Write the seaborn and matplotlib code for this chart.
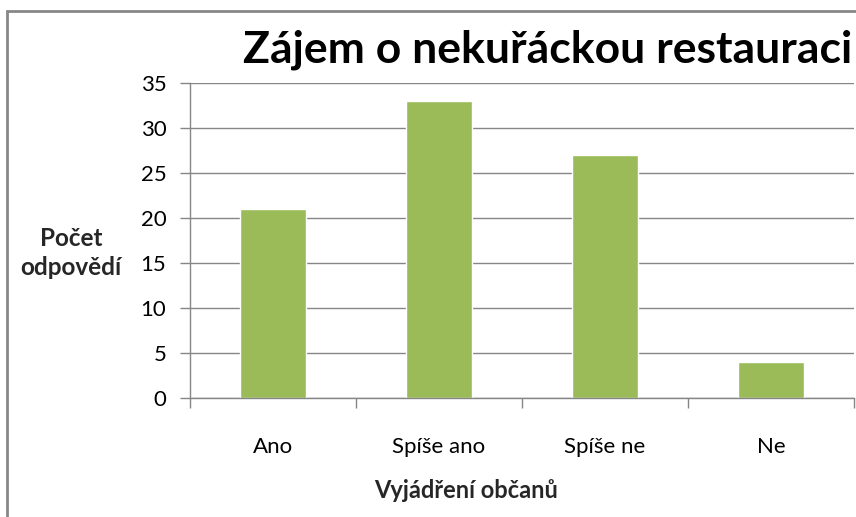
import matplotlib
matplotlib.use("Agg")
import matplotlib.pyplot as plt
import matplotlib.patches as patches
import seaborn as sns
import pandas as pd

# data
categories = ["Ano", "Spíše ano", "Spíše ne", "Ne"]
counts = [21, 33, 27, 4]
y_ticks = [0, 5, 10, 15, 20, 25, 30, 35]

title = "Zájem o nekuřáckou restauraci"
x_label = "Vyjádření občanů"
y_label = "Počet\nodpovědí"

sns.set_theme(style="white")
plt.rcParams["font.family"] = ["Lato", "DejaVu Sans"]

W, H = 856, 517
fig = plt.figure(figsize=(W / 100, H / 100), dpi=100)

# chart border (only left/top visible, rest is cropped)
fig.patches.append(patches.Rectangle((7 / W, -0.1), 1.2, 1 - 11 / H + 0.1,
                                     transform=fig.transFigure, fill=False,
                                     edgecolor="#878787", linewidth=2))

ax = fig.add_axes([190 / W, 1 - 398 / H, 664 / W, 315 / H])
df = pd.DataFrame({"cat": categories, "count": counts})
sns.barplot(data=df, x="cat", y="count", color="#9BBB59", width=0.4,
            saturation=1, ax=ax)

ax.set_ylim(0, 35)
ax.set_xlim(-0.5, 3.5)
ax.set_yticks(y_ticks)
ax.yaxis.grid(True, color="#868686", linewidth=1)
ax.set_axisbelow(True)
for s in ["top", "right"]:
    ax.spines[s].set_visible(False)
for s in ["left", "bottom"]:
    ax.spines[s].set_color("#868686")
    ax.spines[s].set_linewidth(1)

ax.tick_params(axis="y", left=True, length=7, width=1, color="#868686",
               labelsize=16, pad=10, labelcolor="black")
ax.set_xticks([0, 1, 2, 3])
ax.set_xticklabels(categories, fontsize=16)
ax.tick_params(axis="x", bottom=False, pad=22, labelcolor="black")
# category boundary ticks
ax.set_xticks([-0.5, 0.5, 1.5, 2.5, 3.5], minor=True)
ax.tick_params(axis="x", which="minor", bottom=True, length=7, width=1,
               color="#868686")
ax.set_xlabel("")
ax.set_ylabel("")

fig.text(243 / W, 1 - 62 / H, title, fontsize=32, fontweight="bold",
         ha="left", va="baseline", color="black")
fig.text(71 / W, 1 - 253 / H, y_label, fontsize=17.5, fontweight="bold",
         ha="center", va="center", linespacing=1.3)
fig.text(466 / W, 1 - 490 / H, x_label, fontsize=17, fontweight="bold",
         ha="center", va="center")

fig.savefig("out.png", dpi=100)
